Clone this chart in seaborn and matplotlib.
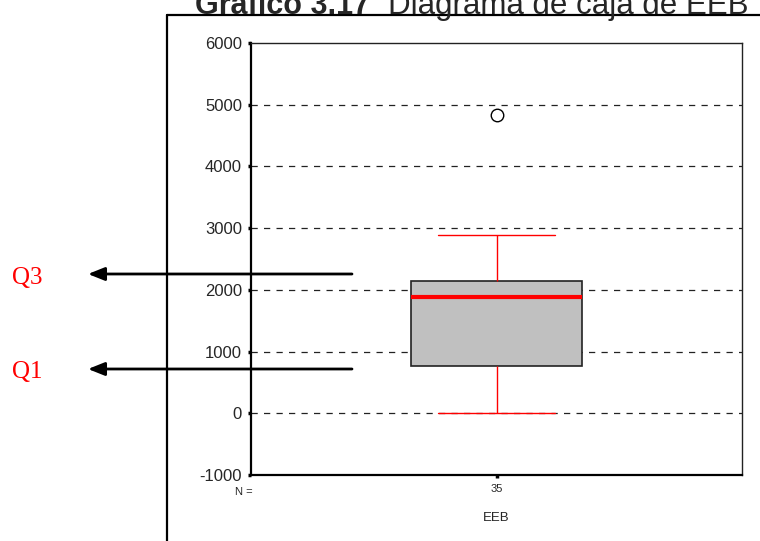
import matplotlib
matplotlib.use("Agg")
import matplotlib.pyplot as plt
import seaborn as sns
import pandas as pd

# Five-number summary of EEB (n = 35) plus the single outlier
eeb_min = 0
eeb_q1 = 770
eeb_median = 1880
eeb_q3 = 2145
eeb_max = 2890
eeb_outliers = [4830]
n_cases = 35

variable_name = "EEB"
y_ticks = [-1000, 0, 1000, 2000, 3000, 4000, 5000, 6000]

# Sample whose quartiles (linear interpolation) reproduce the summary above
values = ([eeb_min] + [eeb_q1] * 3 + [eeb_median] * 3 + [eeb_q3] * 2
          + [eeb_max] + eeb_outliers)
df = pd.DataFrame({"variable": [variable_name] * len(values), "value": values})

sns.set_style("white")
plt.rcParams["font.family"] = ["Liberation Sans", "DejaVu Sans"]

W, H = 760, 541
fig = plt.figure(figsize=(W / 100, H / 100), dpi=100)
ax = fig.add_axes([251 / W, 1 - 475 / H, (742 - 251) / W, (475 - 43) / H])

# dashed reference lines behind the box
for yv in y_ticks[1:-1]:
    ax.axhline(yv, color="#222222", lw=0.9, ls=(0, (5, 5)), zorder=0)

sns.boxplot(
    data=df, x="variable", y="value", ax=ax, width=0.35, whis=1.5,
    color="#c0c0c0", linecolor="black", linewidth=1.2,
    capwidths=0.24,
    boxprops=dict(facecolor="#c0c0c0", edgecolor="#222222", linewidth=1.2),
    medianprops=dict(color="#ff0000", linewidth=3),
    whiskerprops=dict(color="#ff0000", linewidth=1),
    capprops=dict(color="#ff0000", linewidth=1),
    flierprops=dict(marker="o", markersize=9, markerfacecolor="white",
                    markeredgecolor="black", markeredgewidth=1),
)

ax.set_ylim(-1000, 6000)
ax.set_xlim(-0.5, 0.5)
ax.set_yticks(y_ticks)
ax.set_yticklabels([str(v) for v in y_ticks], fontsize=12)
ax.set_xticks([0])
ax.set_xticklabels([str(n_cases)], fontsize=8)
ax.set_xlabel(variable_name, fontsize=9.5, labelpad=13)
ax.set_ylabel("")
ax.tick_params(axis="both", direction="out", length=2.5, width=2.5,
               color="black", pad=4, left=True, bottom=True)

for side in ["left", "bottom"]:
    ax.spines[side].set_linewidth(1.6)
    ax.spines[side].set_color("black")
for side in ["top", "right"]:
    ax.spines[side].set_linewidth(1.0)
    ax.spines[side].set_color("#222222")
    ax.spines[side].set_visible(True)

fig.text(244 / W, 1 - 492 / H, "N =", fontsize=8, ha="center", va="center")

# outer frame of the figure panel
fig.add_artist(plt.Line2D([167 / W, 167 / W], [0, 1 - 15 / H],
                          color="black", lw=1.6, transform=fig.transFigure))
fig.add_artist(plt.Line2D([167 / W, 1], [1 - 15 / H, 1 - 15 / H],
                          color="black", lw=1.6, transform=fig.transFigure))

# title
fig.text(195 / W, 1 - 14 / H, "Gráfico 3.17", fontsize=22, fontweight="bold",
         ha="left", va="baseline")
fig.text(748 / W, 1 - 14 / H, "Diagrama de caja de EEB", fontsize=22.5,
         ha="right", va="baseline")

# quartile pointers
for label, y_px, base_px in [("Q3", 274, 284), ("Q1", 369, 378)]:
    ax.annotate("", xy=(88, H - y_px), xytext=(352, H - y_px),
                xycoords="figure pixels", textcoords="figure pixels",
                arrowprops=dict(arrowstyle="-|>,head_length=1.0,head_width=0.4",
                                color="black", lw=2, shrinkA=0, shrinkB=0))
    fig.text(12 / W, (H - base_px) / H, label, fontsize=18, color="red",
             family=["Liberation Serif", "DejaVu Serif"], ha="left",
             va="baseline")

fig.savefig("out.png", dpi=100)
